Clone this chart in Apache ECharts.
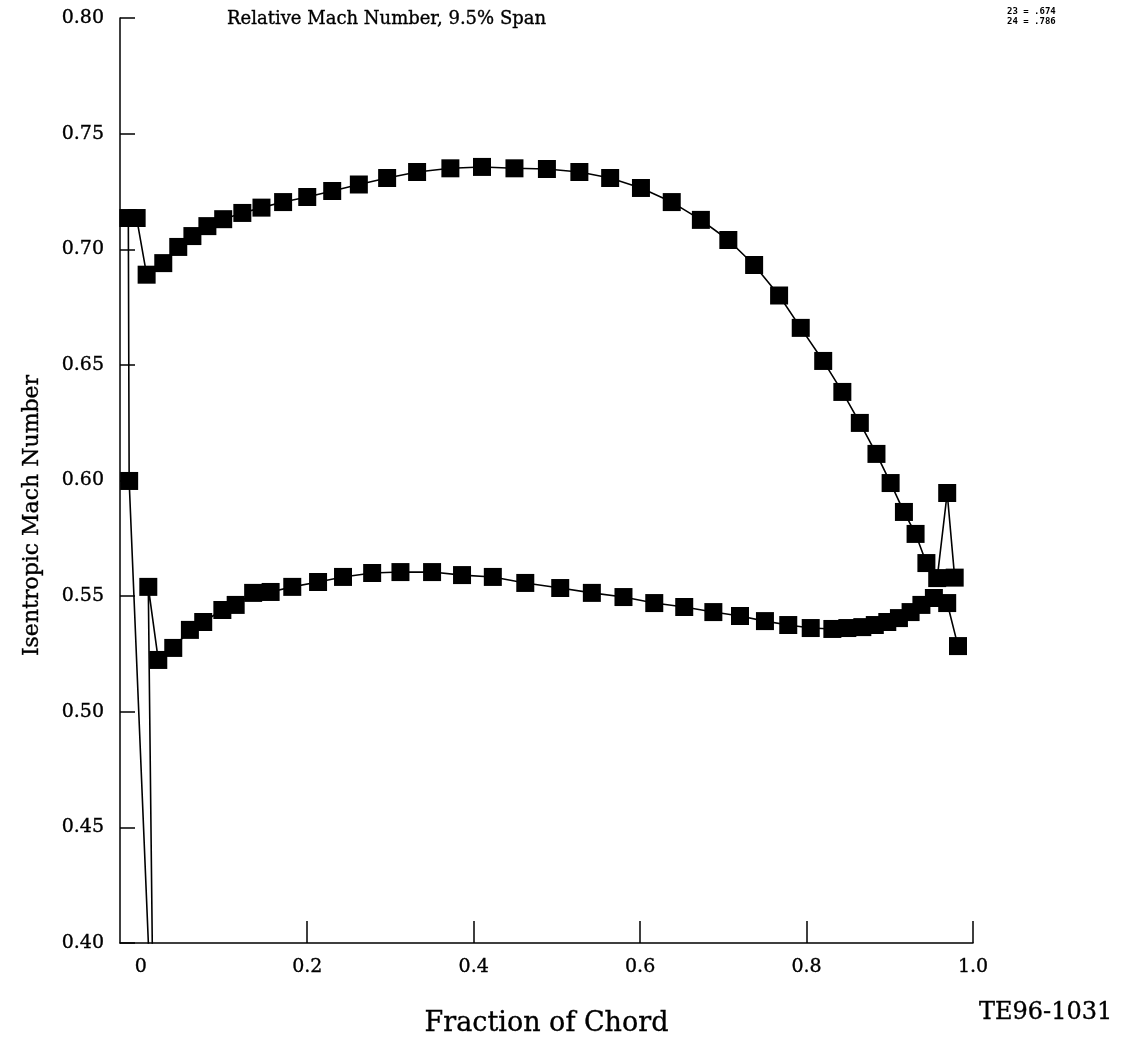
<!DOCTYPE html>
<html><head><meta charset="utf-8">
<script src="https://cdn.jsdelivr.net/npm/echarts@6/dist/echarts.min.js"></script>
<style>html,body{margin:0;padding:0;background:#fff}#c{width:1123px;height:1057px}</style>
</head><body><div id="c"></div>
<script>
// Fraction of chord (x) and isentropic relative Mach number (y)
// first point of each list is the leading-edge stagnation value (below the plotted range)
const upperX = [0.0114, -0.014, -0.015, -0.005, 0.007, 0.027, 0.045, 0.062, 0.080, 0.099, 0.122, 0.145, 0.171, 0.200, 0.230, 0.262, 0.296, 0.332, 0.372, 0.410, 0.449, 0.488, 0.527, 0.564, 0.601, 0.638, 0.673, 0.706, 0.737, 0.767, 0.793, 0.820, 0.843, 0.864, 0.884, 0.901, 0.917, 0.931, 0.944, 0.957, 0.969, 0.978];
const upperY = [0.380, 0.5998, 0.7135, 0.7135, 0.689, 0.694, 0.701, 0.7057, 0.710, 0.713, 0.7157, 0.718, 0.7204, 0.7226, 0.7252, 0.728, 0.7308, 0.7334, 0.735, 0.7356, 0.735, 0.7347, 0.7334, 0.7308, 0.7265, 0.7204, 0.7127, 0.704, 0.6932, 0.680, 0.666, 0.6517, 0.6383, 0.6249, 0.6115, 0.5989, 0.5864, 0.5769, 0.5643, 0.5578, 0.5946, 0.558];
const lowerX = [0.0144, 0.009, 0.021, 0.039, 0.059, 0.075, 0.098, 0.114, 0.135, 0.156, 0.182, 0.213, 0.243, 0.278, 0.312, 0.350, 0.386, 0.423, 0.462, 0.504, 0.542, 0.580, 0.617, 0.653, 0.688, 0.720, 0.750, 0.778, 0.805, 0.831, 0.849, 0.867, 0.882, 0.897, 0.911, 0.925, 0.938, 0.953, 0.969, 0.982];
const lowerY = [0.380, 0.554, 0.5224, 0.5276, 0.5354, 0.5388, 0.544, 0.5462, 0.5514, 0.5518, 0.554, 0.5561, 0.5583, 0.560, 0.5604, 0.5604, 0.5591, 0.5583, 0.5557, 0.5535, 0.5514, 0.5496, 0.547, 0.5453, 0.5431, 0.5414, 0.5392, 0.5375, 0.5362, 0.5358, 0.5362, 0.5366, 0.5375, 0.5388, 0.5405, 0.5431, 0.5462, 0.5492, 0.547, 0.5284];
const xTickValues = [0.2, 0.4, 0.6, 0.8, 1.0];
const xLabelValues = [0, 0.2, 0.4, 0.6, 0.8, 1.0];
const yTickLabels = ['0.40', '0.45', '0.50', '0.55', '0.60', '0.65', '0.70', '0.75', '0.80'];
const titleText = 'Relative Mach Number, 9.5% Span';
const noteLines = ['23 = .674', '24 = .786'];
const figureId = 'TE96-1031';

const X_MIN = -0.025, X_MAX = 1.0, Y_MIN = 0.40, Y_MAX = 0.80;
const serif = '"DejaVu Serif", "Liberation Serif", serif';
const ink = { color: '#000', textBorderColor: '#000', textBorderWidth: 0.35 };

function build(xs, ys) {
  return xs.map((x, i) => {
    const y = ys[i];
    return y < Y_MIN ? { value: [x, y], symbol: 'none' } : [x, y];
  });
}

const chart = echarts.init(document.getElementById('c'), null, { renderer: 'canvas' });
const lineSeries = (name, data) => ({
  name, type: 'line', data, clip: true,
  symbol: 'rect', symbolSize: 18,
  itemStyle: { color: '#000' },
  lineStyle: { color: '#000', width: 1.6 },
  animation: false, z: 3
});

chart.setOption({
  animation: false,
  backgroundColor: '#fff',
  title: [
    { text: titleText, left: 222, top: 5, textStyle: Object.assign({ fontFamily: serif, fontSize: 18, fontWeight: 'normal' }, ink) },
    { text: noteLines.join('\n'), left: 1002, top: 2, textStyle: { fontFamily: '"DejaVu Sans Mono", monospace', fontSize: 9, fontWeight: 'bold', color: '#000', lineHeight: 10 } },
    { text: figureId, left: 974, top: 996, textStyle: Object.assign({ fontFamily: serif, fontSize: 24, fontWeight: 'normal' }, ink) }
  ],
  grid: { left: 120, right: 150, top: 18, bottom: 114, containLabel: false, outerBoundsMode: 'none' },
  xAxis: {
    type: 'value', min: X_MIN, max: X_MAX,
    name: 'Fraction of Chord', nameLocation: 'middle', nameGap: 67, nameMoveOverlap: false,
    nameTextStyle: Object.assign({ fontFamily: serif, fontSize: 27 }, ink),
    axisLine: { show: true, onZero: false, lineStyle: { color: '#000', width: 1.5 } },
    axisTick: { show: true, inside: true, length: 22, customValues: xTickValues, lineStyle: { color: '#000', width: 1.5 } },
    axisLabel: Object.assign({ customValues: xLabelValues, margin: 15, fontFamily: serif, fontSize: 19,
      formatter: v => (v === 0 ? '0' : v.toFixed(1)) }, ink),
    splitLine: { show: false }
  },
  yAxis: {
    type: 'value', min: Y_MIN, max: Y_MAX, interval: 0.05,
    name: 'Isentropic Mach Number', nameLocation: 'middle', nameGap: 77, nameMoveOverlap: false,
    nameTextStyle: Object.assign({ fontFamily: serif, fontSize: 22, padding: [0, 70, 0, 0] }, ink),
    axisLine: { show: true, onZero: false, lineStyle: { color: '#000', width: 1.5 } },
    axisTick: { show: true, inside: true, length: 15, lineStyle: { color: '#000', width: 1.5 } },
    axisLabel: Object.assign({ margin: 16, fontFamily: serif, fontSize: 19,
      formatter: v => yTickLabels[Math.round((v - Y_MIN) / 0.05)] }, ink),
    splitLine: { show: false }
  },
  series: [lineSeries('upper', build(upperX, upperY)), lineSeries('lower', build(lowerX, lowerY))]
});
</script></body></html>
